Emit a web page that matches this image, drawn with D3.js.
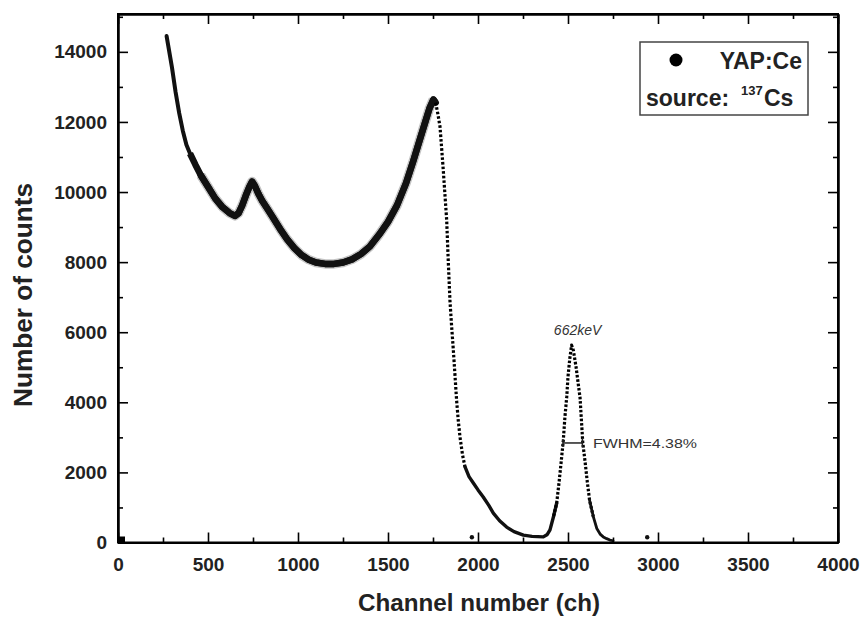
<!DOCTYPE html>
<html>
<head>
<meta charset="utf-8">
<script src="https://cdn.jsdelivr.net/npm/d3@7"></script>
<style>
  html, body { margin: 0; padding: 0; background: #fff; }
  svg { display: block; font-family: "Liberation Sans", Arial, sans-serif; }
</style>
</head>
<body>
<svg id="chart" width="864" height="618"></svg>
<script>
// ---- data ----
const channels = [270, 280, 290, 300, 320, 340, 360, 380, 400, 430, 460, 500, 540, 580, 620, 650, 670, 690, 710, 730, 745, 760, 780, 800, 830, 860, 900, 940, 980, 1020, 1060, 1100, 1150, 1200, 1250, 1300, 1350, 1400, 1450, 1500, 1550, 1600, 1640, 1680, 1710, 1730, 1752, 1765,
  1778, 1789, 1798, 1807, 1816, 1826, 1835, 1844, 1853, 1863, 1872, 1881, 1890, 1900, 1914, 1928,
  1950, 1974, 2000, 2029, 2060, 2085, 2120, 2159, 2200, 2252, 2300, 2363, 2385, 2400,
  2420, 2437, 2450, 2465, 2474, 2483, 2493, 2500, 2510, 2520, 2530, 2545, 2555, 2567, 2582, 2595, 2606, 2620, 2641,
  2660, 2680, 2696, 2715, 2733, 2750];
const counts = [14450, 14150, 13850, 13550, 12850, 12250, 11750, 11350, 11100, 10780, 10480, 10150, 9820, 9570, 9400, 9320, 9400, 9620, 9900, 10150, 10300, 10180, 9950, 9760, 9520, 9280, 8950, 8650, 8400, 8200, 8070, 7990, 7950, 7950, 7990, 8080, 8230, 8450, 8780, 9150, 9620, 10250, 10880, 11550, 12050, 12380, 12640, 12550,
  12200, 11860, 11250, 10630, 9950, 9200, 8000, 6920, 6200, 5490, 4780, 4065, 3500, 3010, 2500, 2155,
  1880, 1700, 1500, 1300, 1060, 840, 620, 440, 310, 210, 175, 160, 230, 360,
  750, 1120, 1700, 2450, 2920, 3590, 4160, 4730, 5250, 5630, 5480, 5000, 4600, 4130, 2850, 2300, 1780, 1200, 730,
  400, 230, 160, 110, 70, 50];

// isolated stray points
const strayChannels = [1966, 2940];
const strayCounts = [150, 150];

// axes
const xMajorTicks = [0, 500, 1000, 1500, 2000, 2500, 3000, 3500, 4000];
const yMajorTicks = [0, 2000, 4000, 6000, 8000, 10000, 12000, 14000];

// annotation values
const fwhmLeft = 2472, fwhmRight = 2580, fwhmLevel = 2840;
const peakChannel = 2520, peakLabelCount = 5630;

// ---- drawing ----
const svg = d3.select("#chart");
const x = d3.scaleLinear().domain([0, 4000]).range([118, 838]);
const y = d3.scaleLinear().domain([0, 15080]).range([542.5, 14]);

const pts = channels.map((c, i) => ({c, v: counts[i]}));
const line = d3.line().x(d => x(d.c)).y(d => y(d.v));

function seg(lo, hi) { return pts.filter(d => d.c >= lo && d.c <= hi); }
function drawSeg(lo, hi, w, opts = {}) {
  const p = gData.append("path").datum(seg(lo, hi)).attr("d", line)
    .attr("fill", "none").attr("stroke", opts.color || "#111").attr("stroke-width", w)
    .attr("stroke-linejoin", "round").attr("stroke-linecap", opts.cap || "round");
  if (opts.dash) p.attr("stroke-dasharray", opts.dash);
  if (opts.opacity) p.attr("stroke-opacity", opts.opacity);
  return p;
}

const gData = svg.append("g");
// soft halo for the noisy continuum band
drawSeg(460, 1752, 9.5, {opacity: 0.25, cap: "butt"});
drawSeg(270, 500, 4);
drawSeg(400, 1765, 6.5, {cap: "butt"});
drawSeg(460, 1765, 6.5);
// steep Compton edge (sparse dots)
drawSeg(1765, 1935, 3.2, {dash: "2.6,2", cap: "butt", color: "#000"});
// tail
drawSeg(1928, 2437, 3.4);
// photopeak sides (dotted)
drawSeg(2420, 2641, 3.2, {dash: "2.6,1.8", cap: "butt", color: "#000"});
drawSeg(2620, 2750, 2.8);

// stray points
gData.selectAll("circle.stray").data(strayChannels.map((c, i) => ({c, v: strayCounts[i]})))
  .enter().append("circle").attr("class", "stray")
  .attr("cx", d => x(d.c)).attr("cy", d => y(d.v)).attr("r", 2.2).attr("fill", "#111");
// origin marker
gData.append("rect").attr("x", x(0)).attr("y", y(0) - 6).attr("width", 7).attr("height", 7).attr("fill", "#000");

// axes
const fontTick = "bold 19px 'Liberation Sans', Arial, sans-serif";
function styleAxis(g) {
  g.select(".domain").attr("stroke", "#000").attr("stroke-width", 2);
  g.selectAll(".tick line").attr("stroke", "#000").attr("stroke-width", 1.6);
  g.selectAll(".tick text").attr("fill", "#222").style("font", fontTick);
}
const xMinor = d3.range(0, 4001, 250).filter(v => v % 500 !== 0);
const yMinor = d3.range(1000, 15001, 2000);

svg.append("g").attr("transform", `translate(0,${y(0)})`)
  .call(d3.axisBottom(x).tickValues(xMajorTicks).tickFormat(d3.format("d")).tickSizeInner(-10).tickSizeOuter(0).tickPadding(15))
  .call(styleAxis);
svg.append("g").attr("transform", `translate(0,${y(0)})`)
  .call(d3.axisBottom(x).tickValues(xMinor).tickFormat("").tickSizeInner(-5).tickSizeOuter(0))
  .call(styleAxis);
svg.append("g").attr("transform", `translate(${x(0)},0)`)
  .call(d3.axisLeft(y).tickValues(yMajorTicks).tickFormat(d3.format("d")).tickSizeInner(-10).tickSizeOuter(0).tickPadding(11))
  .call(styleAxis);
svg.append("g").attr("transform", `translate(${x(0)},0)`)
  .call(d3.axisLeft(y).tickValues(yMinor).tickFormat("").tickSizeInner(-5).tickSizeOuter(0))
  .call(styleAxis);
// mirrored top / right
svg.append("g").attr("transform", `translate(0,14)`)
  .call(d3.axisTop(x).tickValues(xMajorTicks).tickFormat("").tickSizeInner(-10).tickSizeOuter(0))
  .call(styleAxis);
svg.append("g").attr("transform", `translate(0,14)`)
  .call(d3.axisTop(x).tickValues(xMinor).tickFormat("").tickSizeInner(-5).tickSizeOuter(0))
  .call(styleAxis);
svg.append("g").attr("transform", `translate(${x(4000)},0)`)
  .call(d3.axisRight(y).tickValues(yMajorTicks).tickFormat("").tickSizeInner(-10).tickSizeOuter(0))
  .call(styleAxis);
svg.append("g").attr("transform", `translate(${x(4000)},0)`)
  .call(d3.axisRight(y).tickValues(yMinor).tickFormat("").tickSizeInner(-5).tickSizeOuter(0))
  .call(styleAxis);
// frame
svg.append("rect").attr("x", x(0)).attr("y", 14).attr("width", x(4000) - x(0)).attr("height", y(0) - 14)
  .attr("fill", "none").attr("stroke", "#000").attr("stroke-width", 2);

// axis titles
svg.append("text").attr("x", 479).attr("y", 611).attr("text-anchor", "middle")
  .attr("font-size", 24).attr("font-weight", "bold").attr("fill", "#222")
  .attr("textLength", 242).attr("lengthAdjust", "spacingAndGlyphs")
  .text("Channel number (ch)");
svg.append("text").attr("transform", "translate(32,295) rotate(-90)").attr("text-anchor", "middle")
  .attr("font-size", 25).attr("font-weight", "bold").attr("fill", "#222")
  .attr("textLength", 224).attr("lengthAdjust", "spacingAndGlyphs")
  .text("Number of counts");

// annotations
svg.append("text").attr("x", x(peakChannel) + 6).attr("y", y(peakLabelCount) - 10).attr("text-anchor", "middle")
  .attr("font-size", 14).attr("font-style", "italic").attr("fill", "#333")
  .text("662keV");
const fy = y(fwhmLevel);
const gF = svg.append("g").attr("stroke", "#222").attr("stroke-width", 1.5);
gF.append("line").attr("x1", x(fwhmLeft)).attr("x2", x(fwhmRight)).attr("y1", fy).attr("y2", fy);
gF.append("line").attr("x1", x(fwhmLeft)).attr("x2", x(fwhmLeft)).attr("y1", fy - 4).attr("y2", fy + 4);
gF.append("line").attr("x1", x(fwhmRight)).attr("x2", x(fwhmRight)).attr("y1", fy - 4).attr("y2", fy + 4);
svg.append("text").attr("x", 593).attr("y", fy + 5)
  .attr("font-size", 13).attr("fill", "#333")
  .attr("textLength", 104).attr("lengthAdjust", "spacingAndGlyphs")
  .text("FWHM=4.38%");

// legend
const lg = svg.append("g");
lg.append("rect").attr("x", 640).attr("y", 42).attr("width", 168).attr("height", 73)
  .attr("fill", "#fff").attr("stroke", "#444").attr("stroke-width", 1.5);
lg.append("circle").attr("cx", 676).attr("cy", 60).attr("r", 6.5).attr("fill", "#000");
lg.append("text").attr("x", 802).attr("y", 69).attr("text-anchor", "end")
  .attr("font-size", 23).attr("font-weight", "bold").attr("fill", "#222").text("YAP:Ce");
const src = lg.append("text").attr("y", 106)
  .attr("font-size", 23).attr("font-weight", "bold").attr("fill", "#222");
src.append("tspan").attr("x", 646).text("source:");
src.append("tspan").attr("x", 741).attr("font-size", 13).attr("dy", -11).text("137");
src.append("tspan").attr("x", 764).attr("dy", 11).text("Cs");
</script>
</body>
</html>
